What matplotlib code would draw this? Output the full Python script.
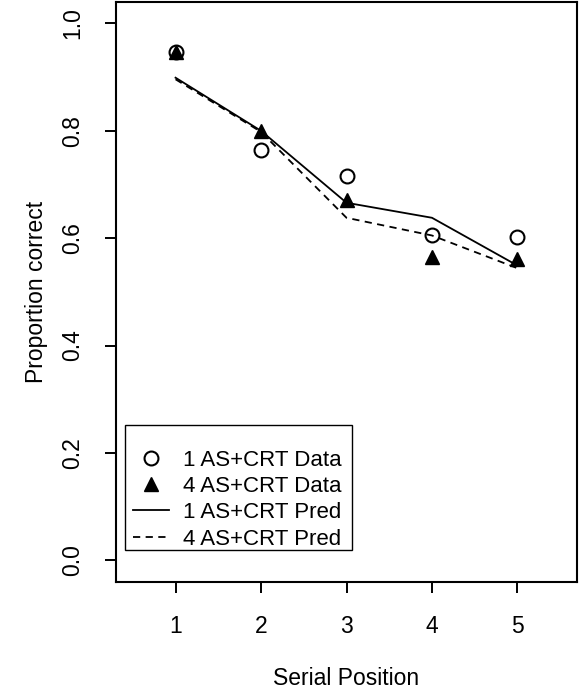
import matplotlib
matplotlib.use("Agg")
import matplotlib.pyplot as plt
from matplotlib.patches import Rectangle

positions = [1, 2, 3, 4, 5]
data_1as = [0.947, 0.764, 0.716, 0.606, 0.602]
data_4as = [0.947, 0.800, 0.672, 0.565, 0.561]
pred_1as = [0.899, 0.800, 0.666, 0.638, 0.549]
pred_4as = [0.896, 0.798, 0.638, 0.605, 0.544]
yticks = [0.0, 0.2, 0.4, 0.6, 0.8, 1.0]
ytick_labels = ["0.0", "0.2", "0.4", "0.6", "0.8", "1.0"]

plt.rcParams['font.family'] = ['Liberation Sans', 'DejaVu Sans']

W, H = 582, 694
fig = plt.figure(figsize=(W / 100, H / 100), dpi=100)
left, right, top, bottom = 115.7, 577.3, 2.0, 581.7
ax = fig.add_axes([left / W, 1 - bottom / H, (right - left) / W, (bottom - top) / H])

ax.plot(positions, pred_1as, color='black', lw=1.3, linestyle='-', label='1 AS+CRT Pred', zorder=2)
ax.plot(positions, pred_4as, color='black', lw=1.3, linestyle=(0, (4, 3)), label='4 AS+CRT Pred', zorder=2)
ax.plot(positions, data_1as, linestyle='none', marker='o', markersize=10, markerfacecolor='none',
        markeredgecolor='black', markeredgewidth=1.5, label='1 AS+CRT Data', zorder=3)
ax.plot(positions, data_4as, linestyle='none', marker='^', markersize=10, color='black',
        label='4 AS+CRT Data', zorder=3)

ax.set_xlim(0.3, 5.7)
ax.set_ylim(-0.04, 1.04)
ax.set_xticks(positions)
ax.set_xticklabels([str(p) for p in positions], fontsize=16.5)
ax.set_yticks(yticks)
ax.set_yticklabels(ytick_labels, fontsize=16.5, rotation=90, va='center')
ax.tick_params(axis='x', length=8, width=1.4, direction='out', pad=16)
ax.tick_params(axis='y', length=8, width=1.4, direction='out', pad=15)
for s in ax.spines.values():
    s.set_linewidth(1.5)

ax.set_xlabel('Serial Position', fontsize=16.5, labelpad=21)
ax.set_ylabel('Proportion correct', fontsize=16.5, labelpad=9)

# legend frame (R-style box)
ax_w, ax_h = right - left, bottom - top
fx0, fx1 = (125 - left) / ax_w, (352 - left) / ax_w
fy0, fy1 = (bottom - 550) / ax_h, (bottom - 425) / ax_h
ax.add_patch(Rectangle((fx0, fy0), fx1 - fx0, fy1 - fy0, transform=ax.transAxes,
                       facecolor='white', edgecolor='black', lw=1.0, zorder=4))

handles, labels = ax.get_legend_handles_labels()
order = [2, 3, 0, 1]
leg = ax.legend([handles[i] for i in order], [labels[i] for i in order],
                loc='lower left', bbox_to_anchor=((129 - left) / ax_w, (bottom - 554) / ax_h),
                fontsize=16, frameon=False,
                handlelength=1.62, handletextpad=0.6, labelspacing=0.24,
                borderpad=0.2, borderaxespad=0.0)
leg.set_zorder(5)

fig.savefig('out.png', dpi=100)
